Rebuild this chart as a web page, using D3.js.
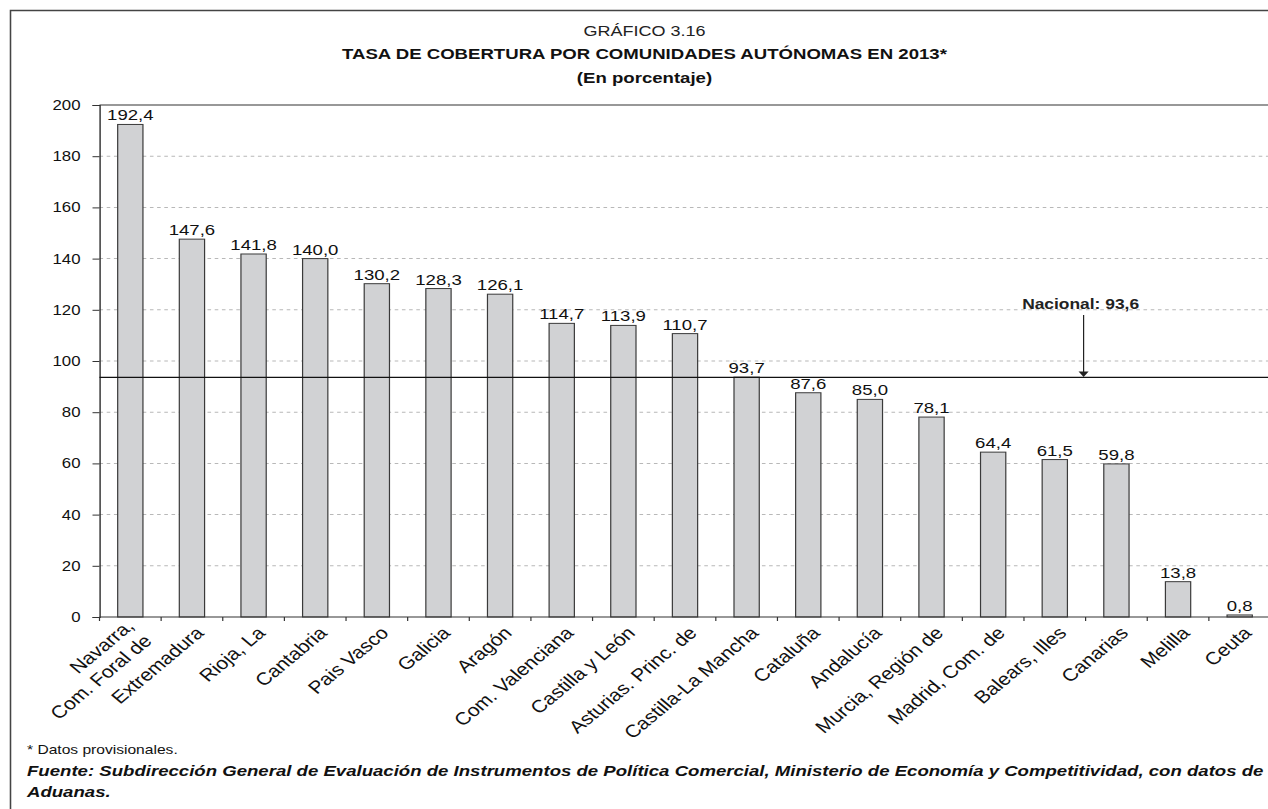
<!DOCTYPE html>
<meta charset="utf-8">
<style>
    body {
        margin: 0;
        background: #fff;
    }

    text {
        font-family: "Liberation Sans", Arial, Helvetica, sans-serif;
        fill: #111;
    }

    .grid line {
        stroke: #b8b8b8;
        stroke-width: 1px;
        stroke-dasharray: 3, 3;
    }

    .bar {
        fill: #d1d2d4;
        stroke: #3a3a3a;
        stroke-width: 1px;
    }

    .axis path,
    .axis line {
        stroke: #333;
    }
</style>

<body>
    <script src="https://cdn.jsdelivr.net/npm/d3@7"></script>
    <script>
        // data
        var regiones = [
            ["Navarra,", "Com. Foral de"],
            ["Extremadura"],
            ["Rioja, La"],
            ["Cantabria"],
            ["Pais Vasco"],
            ["Galicia"],
            ["Aragón"],
            ["Com. Valenciana"],
            ["Castilla y León"],
            ["Asturias. Princ. de"],
            ["Castilla-La Mancha"],
            ["Cataluña"],
            ["Andalucía"],
            ["Murcia, Región de"],
            ["Madrid, Com. de"],
            ["Balears, Illes"],
            ["Canarias"],
            ["Melilla"],
            ["Ceuta"]
        ];
        var tasas = [192.4, 147.6, 141.8, 140.0, 130.2, 128.3, 126.1, 114.7, 113.9, 110.7,
            93.7, 87.6, 85.0, 78.1, 64.4, 61.5, 59.8, 13.8, 0.8];
        var yTicks = [0, 20, 40, 60, 80, 100, 120, 140, 160, 180, 200];
        var nacional = 93.6;

        // the original image is stretched horizontally, so draw in a narrower
        // space and scale the whole thing by sx
        var W = 1268,
            H = 809,
            sx = 1.2;
        var plot = {
            left: 99.5 / sx,
            right: 1270.5 / sx,
            top: 105,
            bottom: 617
        };

        var fmt = d3.formatLocale({
            decimal: ",",
            thousands: ".",
            grouping: [3],
            currency: ["", "€"]
        }).format(".1f");

        var svg = d3.select("body").append("svg")
            .attr("width", W)
            .attr("height", H);

        var g = svg.append("g")
            .attr("transform", "scale(" + sx + ",1)");

        // outer frame (right and bottom edges fall outside the picture)
        g.append("path")
            .attr("d", "M" + (10.5 / sx) + "," + (H + 5) + "V10.5H" + (W / sx + 5))
            .attr("fill", "none")
            .attr("stroke", "#444")
            .attr("stroke-width", 1.3);

        // titles
        var cx = 644.5 / sx;
        g.append("text")
            .attr("x", cx).attr("y", 36)
            .attr("text-anchor", "middle")
            .style("font-size", "15px")
            .style("fill", "#222")
            .text("GRÁFICO 3.16");
        g.append("text")
            .attr("x", cx).attr("y", 59)
            .attr("text-anchor", "middle")
            .style("font-size", "15.5px")
            .style("font-weight", "bold")
            .text("TASA DE COBERTURA POR COMUNIDADES AUTÓNOMAS EN 2013*");
        g.append("text")
            .attr("x", cx).attr("y", 83)
            .attr("text-anchor", "middle")
            .style("font-size", "15.5px")
            .style("font-weight", "bold")
            .text("(En porcentaje)");

        // scales
        var x = d3.scaleBand()
            .domain(d3.range(regiones.length))
            .range([plot.left, plot.right])
            .paddingInner(0.59)
            .paddingOuter(0.295);

        var y = d3.scaleLinear()
            .domain([0, 200])
            .range([plot.bottom, plot.top]);

        var gap = (x.step() - x.bandwidth()) / 2;

        // dotted gridlines
        g.append("g")
            .attr("class", "grid")
            .selectAll("line")
            .data(yTicks.filter(function(d) { return d > 0 && d < 200; }))
            .enter().append("line")
            .attr("x1", plot.left)
            .attr("x2", plot.right)
            .attr("y1", function(d) { return y(d); })
            .attr("y2", function(d) { return y(d); });

        // top border of the plot at 200
        g.append("line")
            .attr("x1", plot.left).attr("x2", plot.right)
            .attr("y1", y(200)).attr("y2", y(200))
            .attr("stroke", "#333")
            .attr("stroke-width", 1.2);

        // bars
        g.selectAll(".bar")
            .data(tasas)
            .enter().append("rect")
            .attr("class", "bar")
            .attr("x", function(d, i) { return x(i); })
            .attr("width", x.bandwidth())
            .attr("y", function(d) { return y(d); })
            .attr("height", function(d) { return y(0) - y(d); });

        // value labels
        g.selectAll(".valor")
            .data(tasas)
            .enter().append("text")
            .attr("class", "valor")
            .attr("x", function(d, i) { return x(i) + x.bandwidth() / 2; })
            .attr("y", function(d) { return y(d) - 4; })
            .attr("text-anchor", "middle")
            .style("font-size", "15.5px")
            .text(function(d) { return fmt(d); });

        // y axis
        var yAxis = g.append("g")
            .attr("class", "axis")
            .attr("transform", "translate(" + plot.left + ",0)")
            .call(d3.axisLeft(y)
                .tickValues(yTicks)
                .tickSize(7 / sx)
                .tickPadding(10)
                .tickFormat(d3.format("d")));
        yAxis.selectAll("text")
            .style("font-size", "14px")
            .style("font-family", "'Liberation Sans', Arial, sans-serif")
            .style("fill", "#111");
        yAxis.select(".domain").attr("stroke-width", 1.2);

        // x axis with ticks between categories
        var xg = g.append("g").attr("class", "axis");
        xg.append("line")
            .attr("x1", plot.left).attr("x2", plot.right)
            .attr("y1", y(0)).attr("y2", y(0))
            .attr("stroke-width", 1.2);
        xg.selectAll(".tick")
            .data(d3.range(regiones.length))
            .enter().append("line")
            .attr("class", "tick")
            .attr("x1", function(i) { return x(i) - gap; })
            .attr("x2", function(i) { return x(i) - gap; })
            .attr("y1", y(0))
            .attr("y2", y(0) + 4);

        // rotated category labels
        var lab = g.selectAll(".cat")
            .data(regiones)
            .enter().append("text")
            .attr("class", "cat")
            .attr("text-anchor", "end")
            .style("font-size", "17.5px")
            .attr("transform", function(d, i) {
                var px = x(i) + x.bandwidth() / 2 + 13 / sx;
                return "translate(" + px + "," + (y(0) + 17) + ") rotate(-45)";
            });
        lab.selectAll("tspan")
            .data(function(d) { return d; })
            .enter().append("tspan")
            .attr("x", 0)
            .attr("dy", function(t, j, nodes) {
                if (nodes.length === 1) return 0;
                return j === 0 ? "-0.55em" : "1.2em";
            })
            .text(function(t) { return t; });

        // national average line with arrow
        var yn = y(nacional);
        g.append("line")
            .attr("x1", plot.left).attr("x2", plot.right)
            .attr("y1", yn).attr("y2", yn)
            .attr("stroke", "#111")
            .attr("stroke-width", 1.3);

        var ax = x(16) - gap - 2 / sx;
        g.append("line")
            .attr("x1", ax).attr("x2", ax)
            .attr("y1", 315).attr("y2", yn - 5)
            .attr("stroke", "#222")
            .attr("stroke-width", 1);
        g.append("path")
            .attr("d", "M" + (ax - 4.2) + "," + (yn - 6) + "L" + (ax + 4.2) + "," + (yn - 6) + "L" + ax + "," + (yn - 0.5) + "Z")
            .attr("fill", "#222");
        g.append("text")
            .attr("x", ax - 3 / sx)
            .attr("y", 309)
            .attr("text-anchor", "middle")
            .style("font-size", "14.5px")
            .style("font-weight", "bold")
            .style("fill", "#222")
            .text("Nacional: " + fmt(nacional));

        // footnotes
        var fx = 27 / sx;
        g.append("text")
            .attr("x", fx).attr("y", 754)
            .style("font-size", "13px")
            .text("* Datos provisionales.");
        var fuente = g.append("text")
            .attr("x", fx).attr("y", 776)
            .style("font-size", "15.5px")
            .style("font-weight", "bold")
            .style("font-style", "italic");
        fuente.append("tspan")
            .text("Fuente: Subdirección General de Evaluación de Instrumentos de Política Comercial, Ministerio de Economía y Competitividad, con datos de");
        fuente.append("tspan")
            .attr("x", fx).attr("dy", 21)
            .text("Aduanas.");
    </script>
</body>
